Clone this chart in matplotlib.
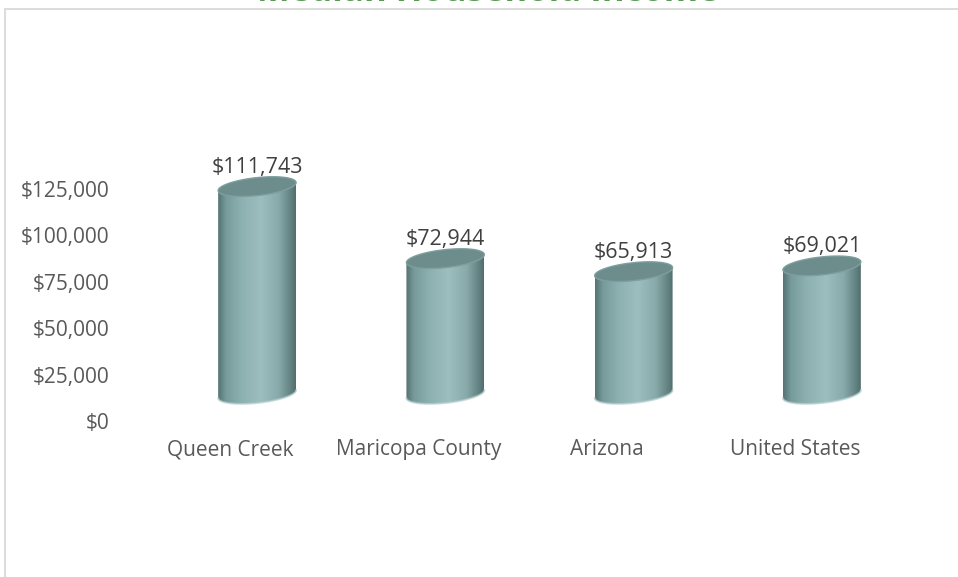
import matplotlib
matplotlib.use('Agg')
import matplotlib.pyplot as plt
import matplotlib.transforms as mtransforms
from matplotlib.path import Path
from matplotlib.patches import PathPatch, Rectangle
from matplotlib.colors import LinearSegmentedColormap
import numpy as np

# data
categories = ['Queen Creek', 'Maricopa County', 'Arizona', 'United States']
incomes = [111743, 72944, 65913, 69021]
y_ticks = [0, 25000, 50000, 75000, 100000, 125000]
title = 'Median Household Income'

plt.rcParams['font.family'] = ['Open Sans', 'DejaVu Sans']

W, H = 958, 577
Y_TOP = 150000
px_per_unit = (421 - 189) / 125000
fig = plt.figure(figsize=(W / 100, H / 100), dpi=100)
ax_top = 421 - Y_TOP * px_per_unit
ax = fig.add_axes([136 / W, 1 - 421 / H, (889 - 136) / W, (421 - ax_top) / H])

# excel-like 3d look: bars sit back in depth, up and to the right of the axis
depth = mtransforms.ScaledTranslation(27 / 100, 27 / 100, fig.dpi_scale_trans)
bar_trans = ax.transData + depth

body_cmap = LinearSegmentedColormap.from_list('cyl', [
    (0.00, '#557473'), (0.10, '#779a9a'), (0.30, '#8db0b1'),
    (0.55, '#9dbebf'), (0.78, '#89aaaa'), (0.92, '#678787'), (1.00, '#536f6f')])

rx = 0.207      # half width in category units
ry = 4850       # half height of the end caps in data units
shear = 2150    # caps tilt up to the right


def ellipse_pts(cx, cy, t):
    return cx + rx * np.cos(t), cy + ry * np.sin(t) + shear * np.cos(t)


for i, v in enumerate(incomes):
    t_back = np.linspace(0, np.pi, 60)
    t_front = np.linspace(np.pi, 2 * np.pi, 60)
    tx, ty = ellipse_pts(i, v, t_back)
    bx, by = ellipse_pts(i, 0, t_front)
    verts = np.vstack([np.column_stack([bx, by]), np.column_stack([tx, ty]), [[bx[0], by[0]]]])
    body = PathPatch(Path(verts, closed=True), fc='none', ec='none', transform=bar_trans)
    ax.add_patch(body)

    grad = np.linspace(0, 1, 200).reshape(1, -1)
    im = ax.imshow(grad, cmap=body_cmap, aspect='auto', interpolation='bilinear',
                   extent=(i - rx, i + rx, -3 * ry, v + 3 * ry), transform=bar_trans)
    im.set_clip_path(body)

    # soft lighter rim along the bottom
    ax.plot(bx, by, color='#b3cdce', lw=1.4, alpha=0.7, transform=bar_trans,
            solid_capstyle='round')

    # top cap
    t_all = np.linspace(0, 2 * np.pi, 120)
    cx_, cy_ = ellipse_pts(i, v, t_all)
    ax.add_patch(PathPatch(Path(np.column_stack([cx_, cy_]), closed=True),
                           fc='#6c8d8c', ec='#7f9f9f', lw=1.0, transform=bar_trans))

    ax.annotate(f'${v:,}', (i, v + ry), xycoords=bar_trans, xytext=(0, 0),
                textcoords='offset points', ha='center', va='bottom',
                fontsize=15.5, color='#404040', annotation_clip=False)

ax.set_xlim(-0.5, 3.5)
ax.set_ylim(0, Y_TOP)
ax.set_xticks(range(len(categories)))
ax.set_xticklabels(categories)
ax.set_yticks(y_ticks)
ax.set_yticklabels([f'${v:,}' for v in y_ticks])
ax.tick_params(axis='both', length=0, labelsize=15, labelcolor='#595959')
ax.tick_params(axis='y', pad=19)
ax.tick_params(axis='x', pad=13)
for s in ax.spines.values():
    s.set_visible(False)
ax.patch.set_alpha(0)

# title mostly falls off the top of the picture, as in the reference
fig.text(488 / W, 1 - 1 / H, title, ha='center', va='baseline',
         fontsize=25, fontweight='bold', color='#5a9a55')

fig.add_artist(Rectangle((5 / W, -0.1), 1.2, 1.1 - 9 / H, transform=fig.transFigure,
                         fill=False, ec='#d9d9d9', lw=1.3))

fig.savefig('out.png', dpi=100)
